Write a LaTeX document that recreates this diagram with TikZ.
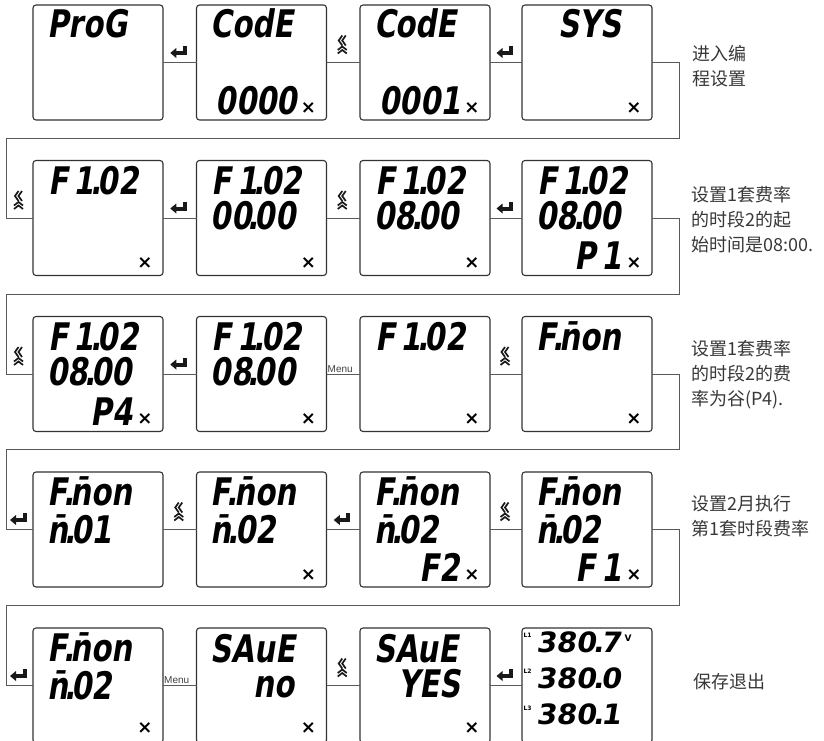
\documentclass[tikz,border=0pt]{standalone}
\usepackage{fontspec}
\usetikzlibrary{calc}
\newfontfamily\cjk{Noto Sans CJK SC}
\newfontfamily\lcdfont{DejaVu Sans Bold}[FakeSlant=0.16,FakeStretch=0.77,WordSpace=0.55]
\newfontfamily\lcdwide{DejaVu Sans Bold}[FakeSlant=0.16,FakeStretch=1.02]
\newfontfamily\symfont{DejaVu Sans Bold}
\newfontfamily\menufont{Liberation Sans}
\newcommand\lcddot{\kern-0.1em.\kern-0.1em}
\newcommand\lcdat[5]{\node[#1,anchor=#2] (#3) at ($(#4.north west)+(#5)$)}
\newcommand\xat[2]{\node[xm] (#1) at ($(#2.north west)+(112,103)$) {×};}
\begin{document}
\begin{tikzpicture}[x=1pt,y=-1pt,
  lcdbox/.style={draw=black!80,line width=1.1pt,rounded corners=3pt,minimum width=130pt,minimum height=115pt,inner sep=0pt,outer sep=0pt},
  conn/.style={draw=black!65,line width=0.9pt},
  big/.style={inner sep=0pt,text depth=0pt,font=\lcdfont\fontsize{38}{38}\selectfont},
  midsize/.style={inner sep=0pt,text depth=0pt,font=\lcdwide\fontsize{28}{28}\selectfont},
  xm/.style={inner sep=0pt,font=\symfont\fontsize{18}{18}\selectfont},
  tinylbl/.style={inner sep=0pt,font=\symfont\fontsize{6}{6}\selectfont},
  volt/.style={inner sep=0pt,font=\symfont\fontsize{9}{9}\selectfont},
  menulbl/.style={inner sep=0pt,font=\menufont\fontsize{10}{10}\selectfont,text=black!75},
  note/.style={inner sep=0pt,anchor=west,align=left,font=\cjk\fontsize{18}{25}\selectfont,text=black!78},
  enterkey/.pic={
    \fill[black!90] (-9.5,-9.5) -- (-3.5,-14.5) -- (-3.5,-4.5) -- cycle;
    \fill[black!90] (-3.6,-11.5) rectangle (7,-7.5);
    \fill[black!90] (3,-16.5) rectangle (7,-7.5);
  },
  navkey/.pic={
    \draw[black!90,line width=1.7pt] (-1,-27) -- (-4.5,-22) -- (-1,-17)
      (2.5,-27) -- (-1,-22) -- (2.5,-17);
    \draw[black!90,line width=1.7pt] (-5.5,-12.5) -- (-1,-16) -- (3.5,-12.5)
      (-5.5,-9) -- (-1,-12.5) -- (3.5,-9);
  }
]
\useasboundingbox (0,0) rectangle (824,741);

% ---------- boxes ----------
\foreach \r/\yy in {1/62.5,2/218,3/374,4/529.5,5/685.5}{
  \node[lcdbox] (r\r c1) at (98,\yy) {};
  \node[lcdbox] (r\r c2) at (261.5,\yy) {};
  \node[lcdbox] (r\r c3) at (425,\yy) {};
  \node[lcdbox] (r\r c4) at (587,\yy) {};
}

% ---------- row 1 ----------
\lcdat{big}{base west}{r1c1a}{r1c1}{14,33}{ProG};
\lcdat{big}{base west}{r1c2a}{r1c2}{14,33}{CodE};
\lcdat{big}{base east}{r1c2c}{r1c2}{101,110}{0000};
\xat{r1c2x}{r1c2}
\lcdat{big}{base west}{r1c3a}{r1c3}{14,33}{CodE};
\lcdat{big}{base east}{r1c3c}{r1c3}{101,110}{0001};
\xat{r1c3x}{r1c3}
\lcdat{big}{base east}{r1c4a}{r1c4}{100,33}{SYS};
\xat{r1c4x}{r1c4}

% ---------- row 2 ----------
\lcdat{big}{base west}{r2c1a}{r2c1}{15,34}{F 1\lcddot 02};
\xat{r2c1x}{r2c1}
\lcdat{big}{base west}{r2c2a}{r2c2}{15,34}{F 1\lcddot 02};
\lcdat{big}{base west}{r2c2b}{r2c2}{14,69}{00\lcddot 00};
\xat{r2c2x}{r2c2}
\lcdat{big}{base west}{r2c3a}{r2c3}{15,34}{F 1\lcddot 02};
\lcdat{big}{base west}{r2c3b}{r2c3}{14,69}{08\lcddot 00};
\xat{r2c3x}{r2c3}
\lcdat{big}{base west}{r2c4a}{r2c4}{15,34}{F 1\lcddot 02};
\lcdat{big}{base west}{r2c4b}{r2c4}{14,69}{08\lcddot 00};
\lcdat{big}{base east}{r2c4c}{r2c4}{100,109}{P 1};
\xat{r2c4x}{r2c4}

% ---------- row 3 ----------
\lcdat{big}{base west}{r3c1a}{r3c1}{15,34}{F 1\lcddot 02};
\lcdat{big}{base west}{r3c1b}{r3c1}{14,69}{08\lcddot 00};
\lcdat{big}{base east}{r3c1c}{r3c1}{100,109}{P4};
\xat{r3c1x}{r3c1}
\lcdat{big}{base west}{r3c2a}{r3c2}{15,34}{F 1\lcddot 02};
\lcdat{big}{base west}{r3c2b}{r3c2}{14,69}{08\lcddot 00};
\xat{r3c2x}{r3c2}
\lcdat{big}{base west}{r3c3a}{r3c3}{15,34}{F 1\lcddot 02};
\xat{r3c3x}{r3c3}
\lcdat{big}{base west}{r3c4a}{r3c4}{14,34}{F\lcddot n̄on};
\xat{r3c4x}{r3c4}

% ---------- row 4 ----------
\lcdat{big}{base west}{r4c1a}{r4c1}{14,33}{F\lcddot n̄on};
\lcdat{big}{base west}{r4c1b}{r4c1}{14,71}{n̄\lcddot 01};
\lcdat{big}{base west}{r4c2a}{r4c2}{14,33}{F\lcddot n̄on};
\lcdat{big}{base west}{r4c2b}{r4c2}{14,71}{n̄\lcddot 02};
\xat{r4c2x}{r4c2}
\lcdat{big}{base west}{r4c3a}{r4c3}{14,33}{F\lcddot n̄on};
\lcdat{big}{base west}{r4c3b}{r4c3}{14,71}{n̄\lcddot 02};
\lcdat{big}{base east}{r4c3c}{r4c3}{100,109}{F2};
\xat{r4c3x}{r4c3}
\lcdat{big}{base west}{r4c4a}{r4c4}{14,33}{F\lcddot n̄on};
\lcdat{big}{base west}{r4c4b}{r4c4}{14,71}{n̄\lcddot 02};
\lcdat{big}{base east}{r4c4c}{r4c4}{100,109}{F 1};
\xat{r4c4x}{r4c4}

% ---------- row 5 ----------
\lcdat{big}{base west}{r5c1a}{r5c1}{14,33}{F\lcddot n̄on};
\lcdat{big}{base west}{r5c1b}{r5c1}{14,71}{n̄\lcddot 02};
\node[xm] (r5c1x) at ($(r5c1.north west)+(112,100)$) {×};
\lcdat{big}{base west}{r5c2a}{r5c2}{14,34}{SAuE};
\lcdat{big}{base east}{r5c2b}{r5c2}{98,69}{no};
\node[xm] (r5c2x) at ($(r5c2.north west)+(112,100)$) {×};
\lcdat{big}{base west}{r5c3a}{r5c3}{14,34}{SAuE};
\lcdat{big}{base east}{r5c3b}{r5c3}{101,69}{YES};
\node[xm] (r5c3x) at ($(r5c3.north west)+(112,100)$) {×};
\lcdat{midsize}{base east}{r5c4a}{r5c4}{99,24}{380\lcddot 7};
\lcdat{midsize}{base east}{r5c4b}{r5c4}{99,60}{380\lcddot 0};
\lcdat{midsize}{base east}{r5c4c}{r5c4}{99,96}{380\lcddot 1};
\node[volt] (r5c4v) at ($(r5c4.north west)+(106,10)$) {V};
\node[tinylbl] (r5c4l1) at ($(r5c4.north west)+(5.5,7.5)$) {L1};
\node[tinylbl] (r5c4l2) at ($(r5c4.north west)+(5.5,43)$) {L2};
\node[tinylbl] (r5c4l3) at ($(r5c4.north west)+(5.5,80)$) {L3};

% ---------- connectors inside rows ----------
\foreach \r in {1,...,5}{
  \draw[conn] (r\r c1.east) -- (r\r c2.west) coordinate[midway] (m\r a);
  \draw[conn] (r\r c2.east) -- (r\r c3.west) coordinate[midway] (m\r b);
  \draw[conn] (r\r c3.east) -- (r\r c4.west) coordinate[midway] (m\r c);
}

% ---------- connectors between rows ----------
\coordinate (k1r) at (679,138); \coordinate (k1l) at (6,138);
\coordinate (k2r) at (679,294); \coordinate (k2l) at (6,294);
\coordinate (k3r) at (679,449); \coordinate (k3l) at (6,449);
\coordinate (k4r) at (679,605); \coordinate (k4l) at (6,605);
\draw[conn] (r1c4.east) -| (k1r) -- (k1l) |- (r2c1.west) coordinate[pos=0.75] (l2);
\draw[conn] (r2c4.east) -| (k2r) -- (k2l) |- (r3c1.west) coordinate[pos=0.75] (l3);
\draw[conn] (r3c4.east) -| (k3r) -- (k3l) |- (r4c1.west) coordinate[pos=0.75] (l4);
\draw[conn] (r4c4.east) -| (k4r) -- (k4l) |- (r5c1.west) coordinate[pos=0.75] (l5);

% ---------- key symbols ----------
\pic at (m1a) {enterkey};
\pic at (m1b) {navkey};
\pic at (m1c) {enterkey};
\pic at (l2) {navkey};
\pic at (m2a) {enterkey};
\pic at (m2b) {navkey};
\pic at (m2c) {enterkey};
\pic at (l3) {navkey};
\pic at (m3a) {enterkey};
\node[menulbl,anchor=south] (menu3) at ($(m3b)+(-3,-1.5)$) {Menu};
\pic at (m3c) {navkey};
\pic at (l4) {enterkey};
\pic at (m4a) {navkey};
\pic at (m4b) {enterkey};
\pic at (m4c) {navkey};
\pic at (l5) {enterkey};
\node[menulbl,anchor=south] (menu5) at ($(m5a)+(-3,-1.5)$) {Menu};
\pic at (m5b) {navkey};
\pic at (m5c) {enterkey};

% ---------- notes ----------
\node[note] (n1) at (692,66) {进入编\\程设置};
\node[note] (n2) at (691,220) {设置1套费率\\的时段2的起\\始时间是08:00.};
\node[note] (n3) at (691,375) {设置1套费率\\的时段2的费\\率为谷(P4).};
\node[note] (n4) at (691,516) {设置2月执行\\第1套时段费率};
\node[note] (n5) at (693,682) {保存退出};
\end{tikzpicture}
\end{document}
